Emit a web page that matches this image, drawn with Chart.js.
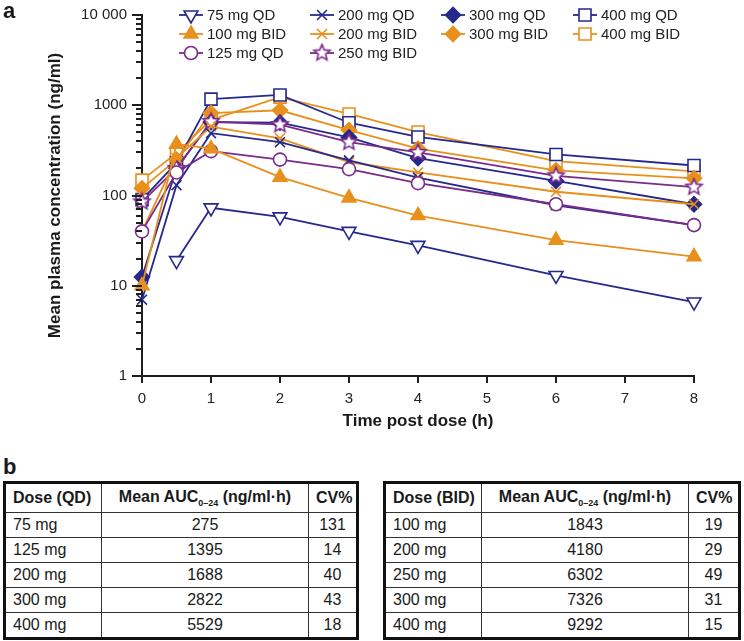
<!DOCTYPE html>
<html>
<head>
<meta charset="utf-8">
<script src="https://cdn.jsdelivr.net/npm/chart.js@4.4.0/dist/chart.umd.min.js"></script>
<style>
  body { margin: 0; background: #fff; font-family: "Liberation Sans", Arial, sans-serif; color: #1a1a1a; }
  #wrap { position: relative; width: 744px; height: 641px; overflow: hidden; }
  #pk { position: absolute; left: 0; top: 0; }
  .panel { position: absolute; left: 3px; font-weight: bold; font-size: 22px; line-height: 22px; }
  table { position: absolute; top: 481px; border-collapse: collapse; border: 3px solid #111; font-size: 16px; table-layout: fixed; }
  td, th { border: 1px solid #333; padding: 0 7px; height: 24px; white-space: nowrap; }
  th { height: 28px; font-weight: bold; }
  td.c, th.c { text-align: center; }
  th.l, td.l { text-align: left; }
  sub { font-size: 9px; }
</style>
</head>
<body>
<div id="wrap">
  <canvas id="pk" width="744" height="445"></canvas>
  <div class="panel" style="top:0px">a</div>
  <div class="panel" style="top:456px">b</div>
  <table id="tblQD" style="left:3px;width:356px"></table>
  <table id="tblBID" style="left:383px;width:358px"></table>
</div>
<script>
// dados (tempo em h, concentracao em ng/ml)
const times = [0, 0.5, 1, 2, 3, 4, 6, 8];

const qd75   = [null, 19, 73, 58, 40, 28, 13, 6.6];
const bid100 = [10, 370, 330, 160, 94, 60, 32, 21];
const qd125  = [40, 180, 310, 250, 196, 137, 80, 47];
const qd200  = [7, 130, 490, 390, 245, 158, 78, 47];
const bid200 = [40, 260, 580, 430, 235, 180, 110, 80];
const bid250 = [85, 200, 660, 610, 390, 300, 165, 124];
const qd300  = [12.5, 200, 650, 640, 440, 260, 145, 80];
const bid300 = [120, 250, 820, 880, 530, 330, 190, 155];
const qd400  = [90, 230, 1170, 1300, 640, 445, 285, 215];
const bid400 = [148, 295, 690, 1230, 800, 505, 240, 185];

// eixos
const xTicks = [0, 1, 2, 3, 4, 5, 6, 7, 8];
const yMajor = [1, 10, 100, 1000, 10000];
const yMajorLabels = ['1', '10', '100', '1000', '10 000'];
const yMinorSteps = [2, 3, 4, 5, 6, 7, 8, 9];

// tabelas AUC
const doseQD = ['75 mg', '125 mg', '200 mg', '300 mg', '400 mg'];
const aucQD  = [275, 1395, 1688, 2822, 5529];
const cvQD   = [131, 14, 40, 43, 18];
const doseBID = ['100 mg', '200 mg', '250 mg', '300 mg', '400 mg'];
const aucBID  = [1843, 4180, 6302, 7326, 9292];
const cvBID   = [19, 29, 49, 31, 15];

const navy = '#26298c';
const orange = '#e8901c';
const purple = '#7b2b8b';
const axisColor = '#1e1e1e';
const font = '"Liberation Sans", Arial, sans-serif';

// estrela de 5 pontas (o 'star' do chart.js eh asterisco)
function makeStar(color, r) {
    const c = document.createElement('canvas');
    const s = Math.ceil(r * 2 + 4);
    c.width = s; c.height = s;
    const g = c.getContext('2d');
    g.beginPath();
    for (let i = 0; i < 10; i++) {
        const a = -Math.PI / 2 + i * Math.PI / 5;
        const rr = i % 2 ? r * 0.45 : r;
        g.lineTo(s / 2 + rr * Math.cos(a), s / 2 + rr * Math.sin(a));
    }
    g.closePath();
    g.fillStyle = '#fff';
    g.fill();
    g.lineWidth = 1.6;
    g.strokeStyle = color;
    g.stroke();
    return c;
}

function serie(label, values, color, style, opts) {
    return Object.assign({
        label: label,
        data: times.map((t, i) => ({ x: t, y: values[i] })),
        borderColor: color,
        backgroundColor: '#fff',
        pointBorderColor: color,
        pointBackgroundColor: '#fff',
        borderWidth: 1.8,
        pointBorderWidth: 1.6,
        pointStyle: style,
        pointRadius: 7,
        pointHoverRadius: 7,
        pointRotation: 0,
        tension: 0,
        fill: false,
        clip: false
    }, opts || {});
}

const datasets = [
    serie('75 mg QD', qd75, navy, 'triangle', { pointRadius: 8, pointRotation: 180 }),
    serie('100 mg BID', bid100, orange, 'triangle', { pointRadius: 8, pointBackgroundColor: orange }),
    serie('125 mg QD', qd125, purple, 'circle', { pointRadius: 6.5 }),
    serie('200 mg QD', qd200, navy, 'crossRot', { pointRadius: 7 }),
    serie('200 mg BID', bid200, orange, 'crossRot', { pointRadius: 7 }),
    serie('250 mg BID', bid250, purple, makeStar(purple, 8.5)),
    serie('300 mg QD', qd300, navy, 'rectRot', { pointRadius: 7.5, pointBackgroundColor: navy }),
    serie('300 mg BID', bid300, orange, 'rectRot', { pointRadius: 7.5, pointBackgroundColor: orange }),
    serie('400 mg QD', qd400, navy, 'rect', { pointRadius: 8.5 }),
    serie('400 mg BID', bid400, orange, 'rect', { pointRadius: 8.5 })
];

// legenda em colunas (coluna, linha) como na figura
const legendSlots = [[0, 0], [0, 1], [0, 2], [1, 0], [1, 1], [1, 2], [2, 0], [2, 1], [3, 0], [3, 1]];
const legendColX = [191, 322, 453, 585];
const legendRowY = [15, 34, 53];

const legendPlugin = {
    id: 'colLegend',
    afterDraw(chart) {
        const ctx = chart.ctx;
        ctx.save();
        chart.data.datasets.forEach((ds, i) => {
            const cx = legendColX[legendSlots[i][0]];
            const cy = legendRowY[legendSlots[i][1]];
            ctx.strokeStyle = ds.borderColor;
            ctx.lineWidth = 1.8;
            ctx.beginPath();
            ctx.moveTo(cx - 12, cy);
            ctx.lineTo(cx + 12, cy);
            ctx.stroke();
            ctx.fillStyle = ds.pointBackgroundColor;
            ctx.strokeStyle = ds.pointBorderColor;
            ctx.lineWidth = ds.pointBorderWidth;
            Chart.helpers.drawPoint(ctx, {
                pointStyle: ds.pointStyle,
                rotation: ds.pointRotation,
                radius: ds.pointRadius,
                borderWidth: ds.pointBorderWidth
            }, cx, cy);
            ctx.fillStyle = '#222';
            ctx.font = '15px ' + font;
            ctx.textBaseline = 'middle';
            ctx.textAlign = 'left';
            ctx.fillText(ds.label, cx + 16, cy + 1);
        });
        ctx.restore();
    }
};

// tracinhos dos eixos desenhados a partir das escalas
const tickMarksPlugin = {
    id: 'tickMarks',
    afterDraw(chart) {
        const ctx = chart.ctx;
        const a = chart.chartArea;
        const xs = chart.scales.x, ys = chart.scales.y;
        ctx.save();
        ctx.setTransform(1, 0, 0, 1, 0, 0);
        ctx.globalAlpha = 1;
        ctx.globalCompositeOperation = 'source-over';
        ctx.setLineDash([]);
        ctx.lineDashOffset = 0;
        ctx.lineCap = 'butt';
        ctx.strokeStyle = axisColor;
        ctx.lineWidth = 2;
        ctx.beginPath();
        xTicks.forEach(v => {
            const px = Math.round(xs.getPixelForValue(v));
            ctx.moveTo(px, a.bottom);
            ctx.lineTo(px, a.bottom + 7);
        });
        yMajor.forEach((d, i) => {
            const py = Math.round(ys.getPixelForValue(d));
            ctx.moveTo(a.left - 10, py);
            ctx.lineTo(a.left, py);
            if (i < yMajor.length - 1) {
                yMinorSteps.forEach(m => {
                    const pm = Math.round(ys.getPixelForValue(d * m));
                    ctx.moveTo(a.left - 6, pm);
                    ctx.lineTo(a.left, pm);
                });
            }
        });
        ctx.stroke();
        ctx.restore();
    }
};

new Chart(document.getElementById('pk').getContext('2d'), {
    type: 'line',
    data: { datasets: datasets },
    options: {
        responsive: false,
        animation: false,
        events: [],
        layout: { padding: { top: 15, right: 50, left: 0, bottom: 0 } },
        plugins: { legend: { display: false }, tooltip: { enabled: false } },
        scales: {
            x: {
                type: 'linear',
                min: 0,
                max: 8,
                afterBuildTicks: s => { s.ticks = xTicks.map(v => ({ value: v })); },
                afterFit: s => { s.height = 69; },
                grid: { display: false, tickLength: 6 },
                border: { display: true, color: axisColor, width: 2 },
                ticks: { color: '#222', font: { family: font, size: 15 }, padding: 8, maxRotation: 0, autoSkip: false },
                title: {
                    display: true,
                    text: 'Time post dose (h)',
                    color: '#1a1a1a',
                    font: { family: font, size: 17, weight: 'bold', lineHeight: 1.2 },
                    padding: { top: 0, bottom: 13 }
                }
            },
            y: {
                type: 'logarithmic',
                min: 1,
                max: 10000,
                afterBuildTicks: s => { s.ticks = yMajor.map(v => ({ value: v, major: true })); },
                afterFit: s => { s.width = 142; },
                grid: { display: false, tickLength: 10 },
                border: { display: true, color: axisColor, width: 2 },
                ticks: {
                    color: '#222',
                    font: { family: font, size: 15 },
                    padding: 5,
                    autoSkip: false,
                    callback: v => yMajorLabels[yMajor.indexOf(v)]
                },
                title: {
                    display: true,
                    text: 'Mean plasma concentration (ng/ml)',
                    color: '#1a1a1a',
                    font: { family: font, size: 17, weight: 'bold', lineHeight: 1.2 },
                    padding: { top: 45, bottom: 0 }
                }
            }
        }
    },
    plugins: [tickMarksPlugin, legendPlugin]
});

// tabelas
function montaTabela(id, regime, doses, aucs, cvs) {
    const t = document.getElementById(id);
    let html = '<colgroup><col style="width:97px"><col style="width:207px"><col></colgroup>';
    html += '<tr><th class="l">Dose (' + regime + ')</th><th class="c">Mean AUC<sub>0\u201324</sub> (ng/ml\u00b7h)</th><th class="c">CV%</th></tr>';
    doses.forEach((d, i) => {
        html += '<tr><td class="l">' + d + '</td><td class="c">' + aucs[i] + '</td><td class="c">' + cvs[i] + '</td></tr>';
    });
    t.innerHTML = html;
}
montaTabela('tblQD', 'QD', doseQD, aucQD, cvQD);
montaTabela('tblBID', 'BID', doseBID, aucBID, cvBID);
</script>
</body>
</html>
